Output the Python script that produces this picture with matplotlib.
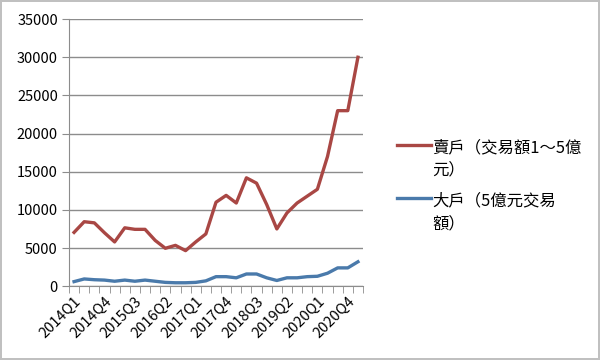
import matplotlib
matplotlib.use("Agg")
import matplotlib.pyplot as plt
from matplotlib.ticker import FixedLocator, NullFormatter

plt.rcParams['font.family'] = ['Noto Sans CJK TC', 'DejaVu Sans']

quarters = [
    "2014Q1", "2014Q2", "2014Q3", "2014Q4",
    "2015Q1", "2015Q2", "2015Q3", "2015Q4",
    "2016Q1", "2016Q2", "2016Q3", "2016Q4",
    "2017Q1", "2017Q2", "2017Q3", "2017Q4",
    "2018Q1", "2018Q2", "2018Q3", "2018Q4",
    "2019Q1", "2019Q2", "2019Q3", "2019Q4",
    "2020Q1", "2020Q2", "2020Q3", "2020Q4",
    "2021Q1",
]

# 賣戶 (trade amount 1~5 億)
small = [7050, 8450, 8300, 7000, 5800, 7650, 7450, 7450, 6000, 4970,
         5350, 4660, 5800, 6850, 11000, 11900, 10900, 14200, 13500, 10700,
         7500, 9600, 10900, 11800, 12700, 17000, 23000, 23000, 30000]
# 大戶 (trade amount 5 億+)
large = [600, 950, 850, 800, 650, 800, 650, 800, 650, 500,
         450, 450, 500, 700, 1250, 1250, 1100, 1600, 1600, 1100,
         750, 1100, 1100, 1250, 1300, 1700, 2400, 2400, 3200]

label_small = "賣戶（交易額1～5億\n元）"
label_large = "大戶（5億元交易\n額）"

fig = plt.figure(figsize=(6, 3.6), dpi=100)
fig.patch.set_edgecolor('#c0c0c0')
fig.patch.set_linewidth(1.5)
ax = fig.add_axes([0.115, 0.205, 0.49, 0.742])

x = list(range(len(quarters)))
ax.plot(x, small, color='#A94744', linewidth=2.4, label=label_small, solid_joinstyle='round')
ax.plot(x, large, color='#4A7AAB', linewidth=2.4, label=label_large, solid_joinstyle='round')

ax.set_xlim(-0.5, len(quarters) - 0.5)
ax.set_ylim(0, 35000)
ax.set_yticks(range(0, 35001, 5000))
ax.grid(axis='y', color='#8c8c8c', linewidth=1)
ax.set_axisbelow(True)

shown = list(range(0, len(quarters), 3))
ax.set_xticks(shown)
ax.set_xticklabels([quarters[i] for i in shown], rotation=45, ha='right',
                   rotation_mode='anchor', fontsize=10.5)
ax.xaxis.set_minor_locator(FixedLocator([i - 0.5 for i in range(len(quarters) + 1)]))
ax.xaxis.set_minor_formatter(NullFormatter())
ax.tick_params(axis='x', which='major', length=0, pad=6)
ax.tick_params(axis='x', which='minor', length=5, color='#8c8c8c')
ax.tick_params(axis='y', length=5, color='#8c8c8c', labelsize=10.5, pad=3)

for side in ['top', 'right']:
    ax.spines[side].set_visible(False)
for side in ['left', 'bottom']:
    ax.spines[side].set_color('#8c8c8c')

leg = fig.legend(loc='upper left', bbox_to_anchor=(0.637, 0.655), frameon=False,
                 fontsize=11.8, handlelength=2.1, handletextpad=0.05, labelspacing=0.85)
for t in leg.get_texts():
    t.set_linespacing(1.45)
# put the line next to the first text line, as in the original
for row in leg._legend_handle_box.get_children():
    for entry in row.get_children():
        entry.align = 'top'

fig.savefig("out.png", dpi=100, edgecolor=fig.get_edgecolor())
